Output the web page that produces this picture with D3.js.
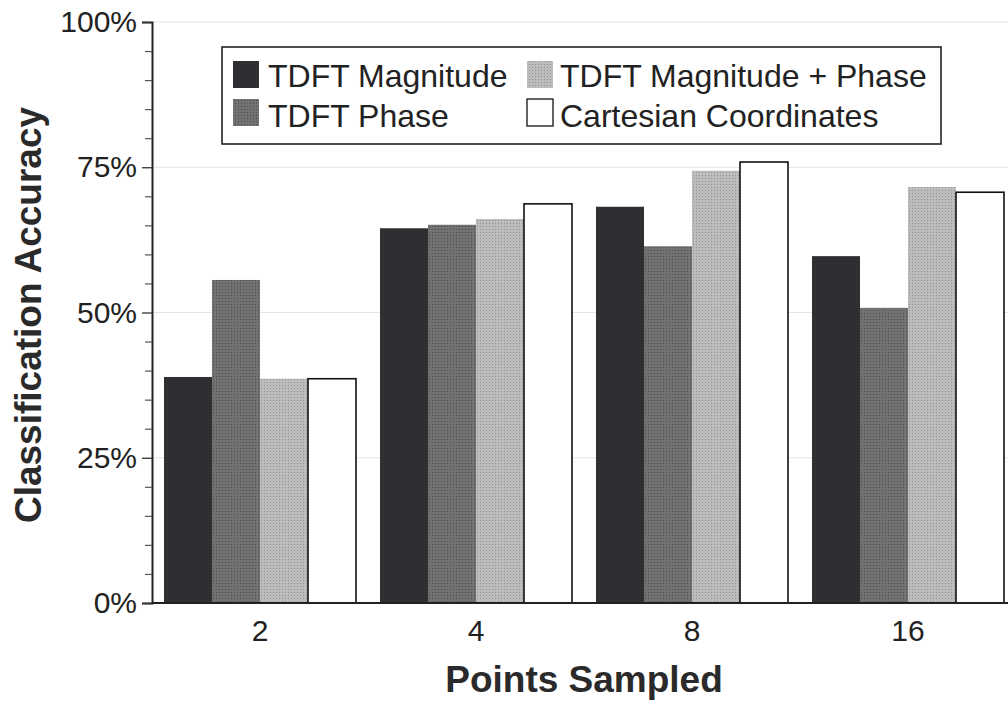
<!DOCTYPE html>
<html>
<head>
<meta charset="utf-8">
<script src="https://cdn.jsdelivr.net/npm/d3@7"></script>
<style>
  html, body { margin: 0; padding: 0; background: #fff; }
  svg { display: block; font-family: "Liberation Sans", Arial, Helvetica, sans-serif; }
</style>
</head>
<body>
<svg id="chart" width="1008" height="701"></svg>
<script>
// ---- data ----
const categories = ["2", "4", "8", "16"];
const seriesNames = ["TDFT Magnitude", "TDFT Phase", "TDFT Magnitude + Phase", "Cartesian Coordinates"];
const magnitude = [38.9, 64.5, 68.2, 59.7];
const phase = [55.6, 65.1, 61.4, 50.8];
const magnitudePhase = [38.6, 66.1, 74.4, 71.6];
const cartesian = [38.6, 68.7, 75.9, 70.7];
const yTicks = [0, 25, 50, 75, 100];
const yMinorTicks = [5, 10, 15, 20, 30, 35, 40, 45, 55, 60, 65, 70, 80, 85, 90, 95];
const xTitle = "Points Sampled";
const yTitle = "Classification Accuracy";

const seriesValues = [magnitude, phase, magnitudePhase, cartesian];
const colors = ["#2e2e33", "#6f6f70", "#b9b9b9", "#ffffff"];

const svg = d3.select("#chart");

// patterns to mimic halftone
const defs = svg.append("defs");
function dotPattern(id, bg, dot) {
  const p = defs.append("pattern").attr("id", id).attr("width", 3).attr("height", 3)
    .attr("patternUnits", "userSpaceOnUse");
  p.append("rect").attr("width", 3).attr("height", 3).attr("fill", bg);
  p.append("rect").attr("x", 1).attr("y", 1).attr("width", 1).attr("height", 1).attr("fill", dot);
}
dotPattern("pDark", "#727273", "#4e4e50");
dotPattern("pLight", "#bdbdbd", "#8e8e8e");
const fills = [colors[0], "url(#pDark)", "url(#pLight)", colors[3]];

const x = d3.scaleBand().domain(categories).range([152, 1016])
  .paddingInner(24 / 216).paddingOuter(12 / 216);
const xs = d3.scaleBand().domain(d3.range(seriesNames.length)).range([0, x.bandwidth()]);
const y = d3.scaleLinear().domain([0, 100]).range([603, 22]);

// gridlines
svg.append("g").selectAll("line").data(yTicks.filter(d => d > 0)).join("line")
  .attr("x1", 152).attr("x2", 1008)
  .attr("y1", d => y(d)).attr("y2", d => y(d))
  .attr("stroke", "#e4e4e4").attr("stroke-width", 1.2);

// bars
const groups = svg.append("g").selectAll("g").data(categories).join("g")
  .attr("transform", d => `translate(${x(d)},0)`);
groups.selectAll("rect").data((c, ci) => seriesValues.map((vals, si) => ({ si, v: vals[ci] })))
  .join("rect")
  .attr("x", d => xs(d.si))
  .attr("width", xs.bandwidth())
  .attr("y", d => y(d.v))
  .attr("height", d => y(0) - y(d.v))
  .attr("fill", d => fills[d.si])
  .attr("stroke", d => d.si === 3 ? "#111" : "none")
  .attr("stroke-width", 1.6);

// y axis
const yAxis = svg.append("g").attr("transform", "translate(152,0)")
  .call(d3.axisLeft(y).tickValues(yTicks).tickFormat(d => d + "%").tickSize(10).tickPadding(5));
yAxis.select(".domain").attr("stroke", "#222").attr("stroke-width", 2);
yAxis.selectAll(".tick line").attr("stroke", "#333").attr("stroke-width", 1.3);
yAxis.selectAll(".tick text").attr("font-size", 30).attr("fill", "#222")
  .attr("font-family", "'Liberation Sans', Arial, sans-serif");
const yMinor = svg.append("g").attr("transform", "translate(152,0)")
  .call(d3.axisLeft(y).tickValues(yMinorTicks).tickFormat("").tickSize(7));
yMinor.select(".domain").remove();
yMinor.selectAll(".tick line").attr("stroke", "#555").attr("stroke-width", 1.2);

// x axis
const xAxis = svg.append("g").attr("transform", "translate(0,603)")
  .call(d3.axisBottom(x).tickSize(0).tickPadding(17));
xAxis.select(".domain").attr("stroke", "#222").attr("stroke-width", 2.2)
  .attr("d", "M152,0H1008");
xAxis.selectAll(".tick text").attr("font-size", 30).attr("fill", "#222")
  .attr("font-family", "'Liberation Sans', Arial, sans-serif");

// axis titles
svg.append("text").attr("x", 584).attr("y", 692).attr("text-anchor", "middle")
  .attr("font-size", 37).attr("font-weight", "bold").attr("fill", "#2a2a2a").text(xTitle);
svg.append("text").attr("transform", "translate(41,315) rotate(-90)").attr("text-anchor", "middle")
  .attr("font-size", 37).attr("font-weight", "bold").attr("fill", "#2a2a2a").text(yTitle);

// legend
const legend = svg.append("g");
legend.append("rect").attr("x", 222).attr("y", 47).attr("width", 719).attr("height", 97)
  .attr("fill", "#fff").attr("stroke", "#222").attr("stroke-width", 1.6);
const legendPos = [
  { si: 0, sx: 233, sy: 61, tx: 268, ty: 87 },
  { si: 2, sx: 527, sy: 61, tx: 560, ty: 87 },
  { si: 1, sx: 233, sy: 99, tx: 268, ty: 127 },
  { si: 3, sx: 527, sy: 99, tx: 560, ty: 127 }
];
const li = legend.selectAll("g.item").data(legendPos).join("g").attr("class", "item");
li.append("rect").attr("x", d => d.sx).attr("y", d => d.sy).attr("width", 26).attr("height", 27)
  .attr("fill", d => fills[d.si]).attr("stroke", d => d.si === 3 ? "#222" : "none").attr("stroke-width", 1.4);
li.append("text").attr("x", d => d.tx).attr("y", d => d.ty).attr("font-size", 32).attr("fill", "#222")
  .text(d => seriesNames[d.si]);
</script>
</body>
</html>
